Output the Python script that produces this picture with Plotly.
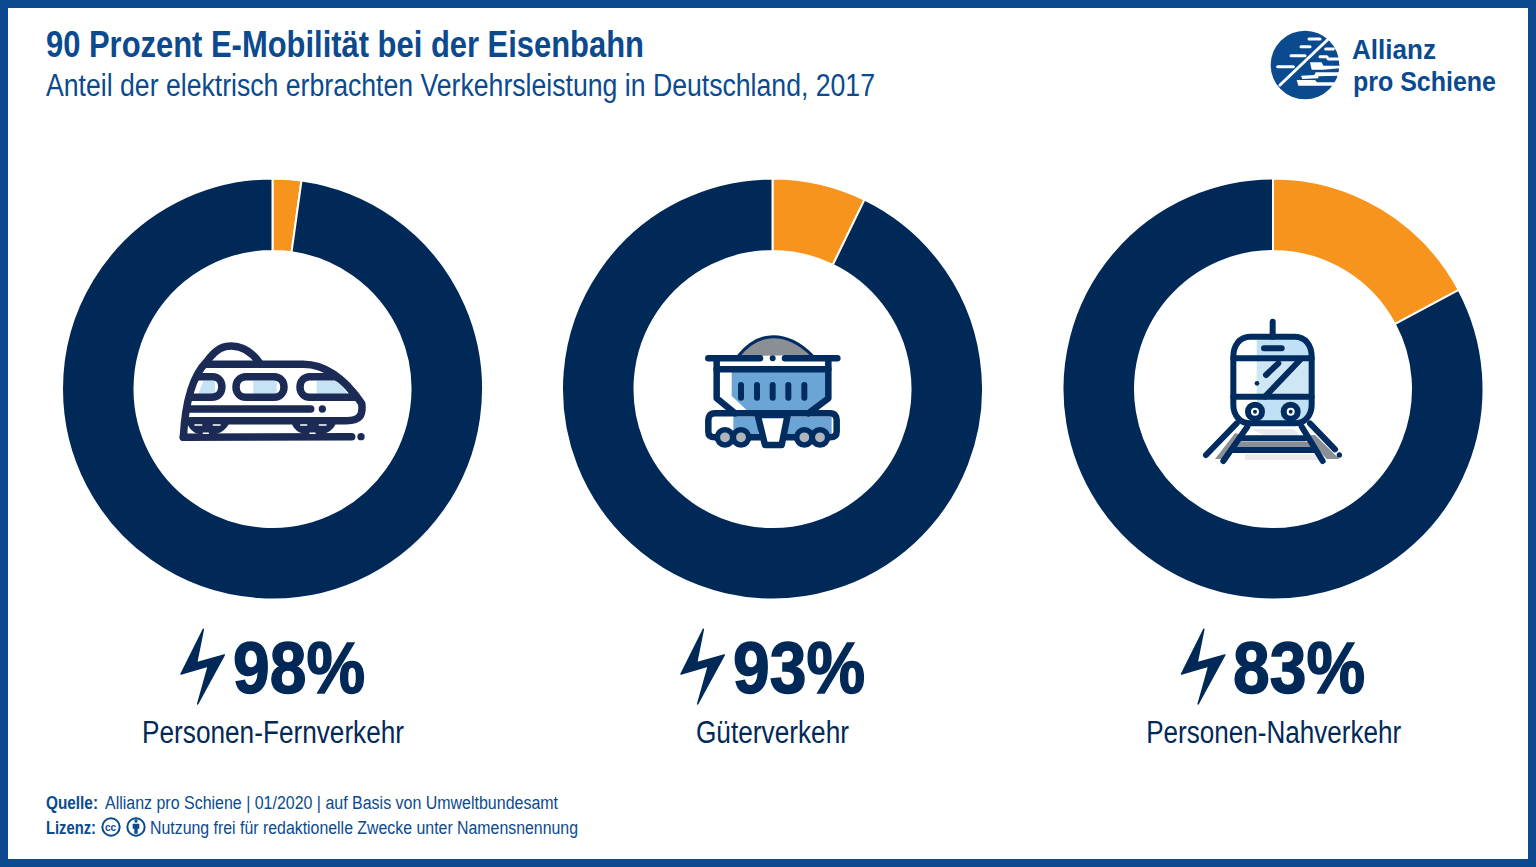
"""Anteil der elektrisch erbrachten Verkehrsleistung - Donut-Grafik."""
import json
import re

import plotly.graph_objects as go

TITLE = "90 Prozent E-Mobilität bei der Eisenbahn"
SUBTITLE = "Anteil der elektrisch erbrachten Verkehrsleistung in Deutschland, 2017"
CATEGORIES = ["Personen-Fernverkehr", "Güterverkehr", "Personen-Nahverkehr"]
PERCENT_LABELS = ["98%", "93%", "83%"]
ELECTRIC = [97.8, 92.8, 82.8]
OTHER = [2.2, 7.2, 17.2]
SLICE_NAMES = ["nicht elektrisch", "elektrisch"]
SOURCE_LABEL = "Quelle:"
SOURCE = "Allianz pro Schiene | 01/2020 | auf Basis von Umweltbundesamt"
LICENSE_LABEL = "Lizenz:"
LICENSE = "Nutzung frei für redaktionelle Zwecke unter Namensnennung"

W, H = 1536, 867
BLUE = "#0b4a8e"
NAVY = "#012958"
ICON = "#1b2b55"
ORANGE = "#f7941d"
SANS = "Liberation Sans, sans-serif"

CENTERS = [272.5, 772.5, 1273]
CY = 389
R = 210.5

shapes = []


def tr(path, ox, oy, s=1 / 3):
    # Pfade stehen in Zoom-Koordinaten, hier nach Pixel umrechnen
    nums = re.findall(r"[A-Z]|-?\d+\.?\d*", path)
    out, i = [], 0
    for n in nums:
        if n.isalpha():
            out.append(n)
        else:
            out.append(f"{(ox if i % 2 == 0 else oy) + float(n) * s:.2f}")
            i += 1
    return " ".join(out)


def path(d, ox, oy, color=None, width=0, fill=None):
    shapes.append(dict(
        type="path", path=tr(d, ox, oy), xref="x", yref="y", layer="above",
        line=dict(color=color or "rgba(0,0,0,0)", width=width),
        fillcolor=fill or "rgba(0,0,0,0)",
    ))


def circle(cx, cy, r, ox, oy, color=None, width=0, fill=None):
    s = 1 / 3
    shapes.append(dict(
        type="circle", xref="x", yref="y", layer="above",
        x0=ox + (cx - r) * s, x1=ox + (cx + r) * s,
        y0=oy + (cy - r) * s, y1=oy + (cy + r) * s,
        line=dict(color=color or "rgba(0,0,0,0)", width=width),
        fillcolor=fill or "rgba(0,0,0,0)",
    ))


def rect(x0, y0, x1, y1, fill):
    shapes.append(dict(type="rect", xref="x", yref="y", layer="above",
                       x0=x0, y0=y0, x1=x1, y1=y1, line=dict(width=0), fillcolor=fill))


# Rahmen
for box in [(0, 0, W, 8), (0, H - 8, W, H), (0, 0, 8, H), (W - 8, 0, W, H)]:
    rect(*box, BLUE)

# Logo
ox, oy = 1265, 25
circle(120, 120, 103, ox, oy, fill=BLUE)
for d in ["M45 180 L190 42", "M38 125 L85 125", "M78 92 L120 92", "M108 65 L135 65", "M132 42 L165 42",
          "M182 72 L205 72", "M165 95 L185 95 L190 102 L222 102"]:
    path(d, ox, oy, color="white", width=3)
path("M135 112 L170 112 L175 122 L224 122 L224 130 L175 134 L140 134 Z", ox, oy, fill="white")
path("M108 152 L148 150 L152 142 L222 142 L222 152 L160 154 L160 160 L112 162 Z", ox, oy, fill="white")
path("M95 165 L150 165 L156 172 L212 172 L205 182 L100 182 Z", ox, oy, fill="white")

# Icon Fernverkehr
ox, oy = 160, 320
LIGHT = "#c5e3f5"
path("M70 352 C75 260 95 170 140 125 L430 133 C510 133 570 200 605 250 C610 285 600 302 560 302 L90 302 Z",
     ox, oy, fill="white")
path("M280 182 L350 182 L350 222 L280 222 Z", ox, oy, fill=LIGHT)
path("M470 182 L530 182 L565 222 L470 222 Z", ox, oy, fill=LIGHT)
path("M130 182 L165 182 L165 222 L115 222 Z", ox, oy, fill=LIGHT)
sw = 7.5
path("M70 352 C75 260 95 170 140 125 C170 85 190 78 215 78 C245 78 275 95 300 130", ox, oy, ICON, sw)
path("M140 133 L430 133 C510 133 570 200 605 250 C610 285 600 302 560 302 L90 302", ox, oy, ICON, sw)
path("M70 352 L575 350", ox, oy, ICON, sw)
path("M90 267 L452 267", ox, oy, ICON, sw)
circle(603, 350, 11, ox, oy, fill=ICON)
circle(487, 267, 11, ox, oy, fill=ICON)
path("M258 170 L342 170 C382 170 382 232 342 232 L258 232 C218 232 218 170 258 170 Z", ox, oy, ICON, sw)
path("M450 170 L525 170 C545 175 570 205 590 232 L450 232 C410 232 410 170 450 170 Z", ox, oy, ICON, sw)
path("M115 170 L160 170 C195 172 195 232 155 232 L95 232", ox, oy, ICON, sw)
path("M85 308 C95 356 185 356 205 308 Z", ox, oy, ICON, 2, ICON)
path("M398 308 C410 356 510 356 525 308 Z", ox, oy, ICON, 2, ICON)
for d in ["M105 315 L125 315", "M160 315 L180 315", "M422 315 L440 315", "M478 315 L498 315",
          "M130 340 L145 340", "M450 340 L465 340"]:
    path(d, ox, oy, color="white", width=1.5)

# Icon Güterverkehr
ox, oy = 690, 320
WAG = "#6ba5d6"
GRAY = "#8a8f96"
WHEEL = "#adb5bd"
WN = "#002c5f"
path("M145 108 C180 65 220 50 250 50 C290 50 330 70 365 105 Z", ox, oy, fill=GRAY)
path("M145 108 C180 65 220 50 250 50 C290 50 330 70 365 105", ox, oy, WN, 3)
path("M125 150 L415 150 L415 232 L352 280 L180 280 L125 228 Z", ox, oy, fill=WAG)
path("M130 290 L205 290 L205 352 L130 352 Z", ox, oy, fill=WAG)
path("M290 290 L425 290 L425 352 L290 352 Z", ox, oy, fill=WAG)
sw = 6.5
path("M55 115 L210 115", ox, oy, WN, sw)
path("M285 115 L442 115", ox, oy, WN, sw)
circle(248, 115, 9, ox, oy, fill=WN)
path("M80 120 L80 235 L135 280", ox, oy, WN, sw)
path("M415 120 L415 235 L355 280", ox, oy, WN, sw)
path("M80 148 L415 148", ox, oy, WN, sw)
for sx in [153, 201, 248, 295, 343]:
    path(f"M{sx} 195 L{sx} 233", ox, oy, WN, 6)
path("M75 280 L420 280 C435 280 440 290 440 300 L440 335 C440 345 435 352 420 352 L75 352 C60 352 55 345 55 335 "
     "L55 300 C55 290 60 280 75 280 Z", ox, oy, WN, sw)
path("M203 285 L225 375 L275 375 L293 285 Z", ox, oy, WN, sw, "white")
for wx in [105, 153, 343, 390]:
    circle(wx, 352, 23, ox, oy, WN, sw - 1, WHEEL)

# Icon Nahverkehr
ox, oy = 1190, 315
TN = "#002c5f"
path("M185 342 L310 342 L330 360 L220 360 Z", ox, oy, fill="#e8eaec")
path("M165 418 L385 418 L395 435 L165 435 Z", ox, oy, fill="#e8eaec")
path("M135 355 L75 432 L105 432 L165 360 Z", ox, oy, fill=GRAY)
path("M345 360 L410 432 L448 432 L375 360 Z", ox, oy, fill=GRAY)
path("M140 380 L360 380 L370 398 L130 398 Z", ox, oy, fill=GRAY)
path("M200 70 L320 70 C350 70 362 95 362 125 L200 125 Z", ox, oy, fill="#bfe0f5")
path("M200 135 L358 135 L358 240 L200 240 Z", ox, oy, fill="#cfe6f4")
path("M200 250 L362 250 L362 280 C355 310 335 320 310 320 L200 320 Z", ox, oy, fill="#bfe0f5")
sw = 6
path("M248 20 L248 65", ox, oy, TN, sw)
path("M180 65 L315 65 C345 65 365 90 365 125 L365 270 C365 300 345 325 315 325 L180 325 C150 325 130 300 130 270 "
     "L130 125 C130 90 150 65 180 65 Z", ox, oy, TN, sw)
path("M130 130 L365 130", ox, oy, TN, sw)
path("M130 245 L365 245", ox, oy, TN, sw)
path("M222 100 L275 100", ox, oy, TN, sw)
path("M228 180 L265 145", ox, oy, TN, sw)
path("M225 245 L330 135", ox, oy, TN, sw)
circle(201, 205, 7, ox, oy, fill=TN)
circle(195, 290, 21, ox, oy, TN, sw, "white")
circle(302, 290, 21, ox, oy, TN, sw, "white")
circle(195, 290, 6, ox, oy, fill=TN)
circle(302, 290, 6, ox, oy, fill=TN)
for d in ["M140 325 L48 420", "M172 335 L100 438", "M360 325 L435 403", "M335 335 L398 438",
          "M150 370 L345 370", "M125 405 L375 405"]:
    path(d, ox, oy, TN, sw)
circle(448, 420, 8, ox, oy, fill=TN)

# Blitze
BOLT = "M220 28 L153 162 L235 138 L203 252 L283 105 L200 128 Z"
for cx in CENTERS:
    path(BOLT, 130 + cx - 272.5, 620, NAVY, 1.5, NAVY)

# CC-Symbole
ox, oy = 95, 812
circle(48, 45, 26, ox, oy, BLUE, 2)
circle(123, 45, 26, ox, oy, BLUE, 2)
circle(123, 27, 5, ox, oy, fill=BLUE)
path("M113 35 L133 35 L133 50 L128 50 L128 65 L118 65 L118 50 L113 50 Z", ox, oy, fill=BLUE)

fig = go.Figure()
for cx, e, o, cat in zip(CENTERS, ELECTRIC, OTHER, CATEGORIES):
    fig.add_trace(go.Pie(
        values=[o, e], labels=SLICE_NAMES, sort=False, direction="clockwise", rotation=0,
        hole=138 / R, textinfo="none", showlegend=False, name=cat,
        marker=dict(colors=[ORANGE, NAVY], line=dict(color="white", width=2)),
        domain=dict(x=[(cx - R) / W, (cx + R) / W], y=[1 - (CY + R) / H, 1 - (CY - R) / H]),
    ))
# leere Spur, damit die Pixel-Achsen fuer Shapes existieren
fig.add_trace(go.Scatter(x=[None], y=[None], showlegend=False, hoverinfo="skip"))

# Zielbreiten: die Schrift im Original ist schmal, Liberation Sans wird per textLength gestaucht
text_widths = []
heavy = []


def text(s, x, y, size, color=BLUE, bold=False, anchor="left", width=None):
    text_widths.append(width)
    fig.add_annotation(
        x=x, y=y, xref="x", yref="y", text=f"<b>{s}</b>" if bold else s, showarrow=False,
        xanchor=anchor, yanchor="middle", align=anchor, borderpad=0,
        font=dict(family=SANS, size=size, color=color),
    )


text(TITLE, 44.5, 44, 36, bold=True, width=598)
text(SUBTITLE, 44.5, 85, 31, width=829)
text("Allianz", 1351, 49.5, 28, bold=True, width=84)
text("pro Schiene", 1352, 81.5, 28, bold=True, width=143)
for cx, label, cat, w_lab in zip(CENTERS, PERCENT_LABELS, CATEGORIES, [262, 153, 255]):
    heavy.append(len(text_widths))
    text(label, cx + 26, 668, 72, NAVY, True, "center", 132)
    text(cat, cx, 732, 31, NAVY, False, "center", w_lab)
text(SOURCE_LABEL, 45, 803, 18, bold=True, width=52)
text(SOURCE, 104, 803, 18, width=453)
text(LICENSE_LABEL, 45, 828, 18, bold=True, width=50)
text(LICENSE, 149, 828, 18, width=428)
text("<b>cc</b>", 111, 827, 10, anchor="center")

fig.update_xaxes(range=[0, W], visible=False, fixedrange=True)
fig.update_yaxes(range=[H, 0], visible=False, fixedrange=True)
fig.update_layout(
    width=W, height=H, margin=dict(l=0, r=0, t=0, b=0),
    paper_bgcolor="white", plot_bgcolor="white", shapes=shapes,
)
POST = (
    "document.body.style.margin='0';"
    "var s=document.createElement('style');"
    "s.textContent='.shapelayer path{stroke-linecap:round;stroke-linejoin:round}';"
    "document.head.appendChild(s);"
    "var tw=" + json.dumps(text_widths) + ",hv=" + json.dumps(heavy) + ";"
    "tw.forEach(function(w,i){if(!w)return;"
    "var t=document.querySelector('.annotation[data-index=\"'+i+'\"] text');"
    "t.setAttribute('textLength',w);t.setAttribute('lengthAdjust','spacingAndGlyphs');"
    "if(hv.indexOf(i)>=0){t.style.stroke='" + NAVY + "';t.style.strokeWidth='1.5px';}});"
)
fig.write_html("out.html", post_script=POST, config=dict(displayModeBar=False))
